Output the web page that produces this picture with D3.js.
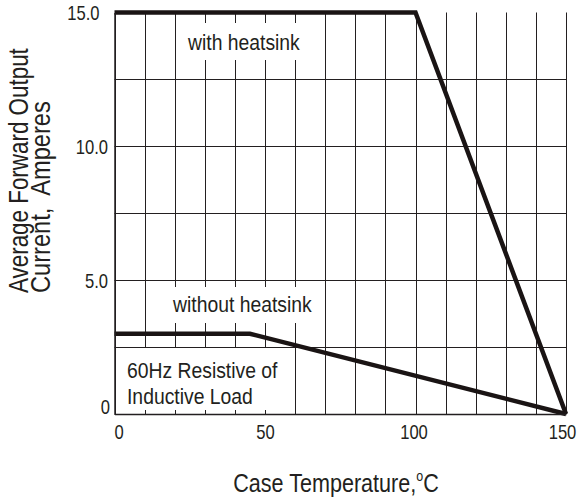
<!DOCTYPE html>
<html>
<head>
<meta charset="utf-8">
<script src="https://cdn.jsdelivr.net/npm/d3@7"></script>
<style>
  html, body { margin: 0; padding: 0; background: #fff; }
  svg { display: block; }
</style>
</head>
<body>
<svg id="chart" width="582" height="499"></svg>
<script>
// ---- data ----
const tempTicks = [0, 50, 100, 150];
const tempTickLabels = ["0", "50", "100", "150"];
const currentTicks = [0, 5, 10, 15];
const currentTickLabels = ["0", "5.0", "10.0", "15.0"];
const gridTemps = [0, 10, 20, 30, 40, 50, 60, 70, 80, 90, 100, 110, 120, 130, 140, 150];
const gridCurrents = [0, 2.5, 5, 7.5, 10, 12.5];
const withHeatsinkTemp = [0, 100, 150];
const withHeatsinkCurrent = [15, 15, 0];
const withoutHeatsinkTemp = [0, 45, 150];
const withoutHeatsinkCurrent = [3, 3, 0];

const ink = "#231f20";
const font = "'Liberation Sans', Arial, sans-serif";
const squeeze = 0.83;

const svg = d3.select("#chart");
const x = d3.scaleLinear().domain([0, 150]).range([114.5, 566]);
const y = d3.scaleLinear().domain([0, 15]).range([414, 12.5]);

// grid
const g = svg.append("g");
g.selectAll("line.v").data(gridTemps).join("line")
  .attr("x1", d => Math.round(x(d)) + 0.5).attr("x2", d => Math.round(x(d)) + 0.5)
  .attr("y1", y(15)).attr("y2", y(0))
  .attr("stroke", ink).attr("stroke-width", 1);
g.selectAll("line.h").data(gridCurrents).join("line")
  .attr("y1", d => Math.round(y(d)) + 0.5).attr("y2", d => Math.round(y(d)) + 0.5)
  .attr("x1", x(0)).attr("x2", x(150))
  .attr("stroke", ink).attr("stroke-width", 1);

// white boxes behind in-plot labels
const boxes = [
  {x0: 178, y0: 23, x1: 310, y1: 60},
  {x0: 168, y0: 287, x1: 318, y1: 323},
  {x0: 116, y0: 348, x1: 287, y1: 410}
];
svg.selectAll("rect.box").data(boxes).join("rect")
  .attr("x", d => d.x0).attr("y", d => d.y0)
  .attr("width", d => d.x1 - d.x0).attr("height", d => d.y1 - d.y0)
  .attr("fill", "#fff");

// in-plot labels
const labels = [
  {t: "with heatsink", x: 188, y: 50},
  {t: "without heatsink", x: 173, y: 312},
  {t: "60Hz Resistive of", x: 127, y: 378},
  {t: "Inductive Load", x: 127, y: 404}
];
svg.selectAll("text.lab").data(labels).join("text")
  .attr("transform", d => `translate(${d.x},${d.y}) scale(0.9,1)`)
  .attr("font-family", font).attr("font-size", 21.5)
  .attr("fill", ink).text(d => d.t);

// curves
const line = d3.line().x(d => x(d[0])).y(d => y(d[1]));
const curves = [
  d3.zip(withHeatsinkTemp, withHeatsinkCurrent),
  d3.zip(withoutHeatsinkTemp, withoutHeatsinkCurrent)
];
svg.selectAll("path.curve").data(curves).join("path")
  .attr("d", line).attr("fill", "none")
  .attr("stroke", "#1a1414").attr("stroke-width", 4.5)
  .attr("stroke-linejoin", "miter").attr("stroke-linecap", "butt");

// axes
const xAxis = d3.axisBottom(x).tickValues(tempTicks)
  .tickFormat((d, i) => tempTickLabels[i]).tickSize(0).tickPadding(10.5);
const xg = svg.append("g").attr("transform", `translate(0,${y(0)})`).call(xAxis);
xg.select(".domain").attr("stroke", ink).attr("stroke-width", 1.5);
xg.selectAll("text").attr("font-family", font).attr("font-size", 20).attr("fill", ink)
  .attr("transform", `scale(${squeeze},1)`)
  .attr("dx", (d, i) => [4, 0, -2, -4][i] / squeeze);

const yAxis = d3.axisLeft(y).tickValues(currentTicks)
  .tickFormat((d, i) => currentTickLabels[i]).tickSize(0).tickPadding(6);
const yg = svg.append("g").attr("transform", `translate(${x(0)},0)`).call(yAxis);
yg.select(".domain").attr("stroke", ink).attr("stroke-width", 1.5);
yg.selectAll("text").attr("font-family", font).attr("font-size", 20).attr("fill", ink)
  .attr("transform", `scale(${squeeze},1)`)
  .attr("x", (d, i) => [-4.5, -6.5, -6.5, -15][i] / squeeze)
  .attr("dy", (d, i) => i === 0 ? "-0.05em" : "0.36em");

// axis titles
const xt = svg.append("text").attr("transform", `translate(336,492) scale(${squeeze},1)`)
  .attr("text-anchor", "middle").attr("font-family", font).attr("font-size", 26).attr("fill", ink);
xt.append("tspan").text("Case Temperature,");
xt.append("tspan").attr("font-size", 15).attr("dy", -11).text("o");
xt.append("tspan").attr("dy", 11).text("C");

const yt = svg.append("g").attr("transform", `translate(28,293) rotate(-90) scale(${squeeze},1)`);
yt.append("text").attr("x", 0).attr("y", 0)
  .attr("font-family", font).attr("font-size", 27).attr("fill", ink)
  .text("Average Forward Output");
yt.append("text").attr("x", 0).attr("y", 22)
  .attr("font-family", font).attr("font-size", 28.5).attr("fill", ink)
  .style("white-space", "pre")
  .text("Current,  Amperes");
</script>
</body>
</html>
